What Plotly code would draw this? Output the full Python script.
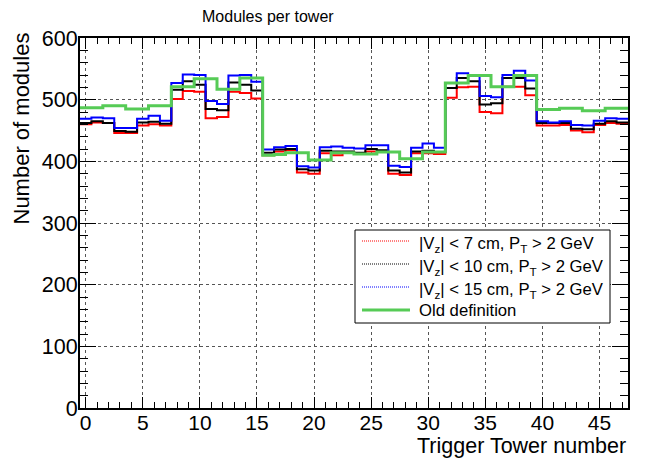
import numpy as np
import plotly.graph_objects as go

towers = list(range(48))

vz7 = [460, 463, 462, 446, 446, 458, 460, 458, 501, 514, 513, 470, 472, 513, 511, 502,
       410, 416, 418, 382, 380, 413, 410, 414, 412, 416, 415, 380, 378, 413, 413, 412,
       503, 520, 521, 480, 478, 521, 521, 507, 458, 458, 459, 450, 447, 459, 462, 461]

vz10 = [462, 465, 462, 449, 448, 463, 464, 461, 516, 530, 524, 485, 483, 528, 524, 515,
        414, 419, 420, 387, 385, 417, 416, 416, 414, 420, 418, 385, 382, 416, 417, 415,
        519, 535, 530, 492, 494, 535, 535, 518, 462, 462, 462, 453, 452, 461, 465, 463]

vz15 = [469, 471, 470, 454, 454, 469, 474, 466, 527, 541, 540, 498, 493, 539, 540, 529,
        419, 423, 425, 392, 390, 423, 424, 422, 421, 426, 426, 393, 391, 422, 429, 422,
        527, 543, 539, 506, 504, 540, 547, 531, 465, 463, 465, 459, 458, 466, 470, 469]

old_def = [487, 487, 490, 490, 485, 485, 490, 490, 521, 521, 534, 534, 517, 517, 535, 535,
           410, 411, 414, 414, 402, 402, 414, 414, 412, 412, 415, 415, 404, 404, 415, 415,
           527, 527, 539, 539, 521, 521, 539, 539, 484, 484, 486, 486, 482, 482, 486, 486]

x_ticks = [0, 5, 10, 15, 20, 25, 30, 35, 40, 45]
y_ticks = [0, 100, 200, 300, 400, 500, 600]

series = [
    ("|V<sub>z</sub>| &lt; 7 cm, P<sub>T</sub> &gt; 2 GeV", vz7, "#ff0000", 2, "1px,1px", 1),
    ("|V<sub>z</sub>| &lt; 10 cm, P<sub>T</sub> &gt; 2 GeV", vz10, "#000000", 2, "1px,1px", 1),
    ("|V<sub>z</sub>| &lt; 15 cm, P<sub>T</sub> &gt; 2 GeV", vz15, "#0000ff", 2, "1px,1px", 1),
    ("Old definition", old_def, "#56cb56", 3, "solid", 3),
]

edges = np.array(towers + [towers[-1] + 1], dtype=float) - 0.5

fig = go.Figure()
for name, vals, col, w, ldash, lw in series:
    yv = list(vals) + [vals[-1]]
    fig.add_trace(go.Scatter(x=edges, y=yv, mode="lines", name=name,
                             line=dict(color=col, width=w, shape="hv"),
                             showlegend=False, hoverinfo="skip"))

font_family = "Liberation Sans, Arial, Helvetica, sans-serif"

fig.update_layout(
    width=646, height=460,
    margin=dict(l=80, r=18, t=38, b=52),
    paper_bgcolor="white", plot_bgcolor="white",
    font=dict(family=font_family, color="black", size=21),
    showlegend=False,
)

fig.update_xaxes(
    range=[-0.5, 47.5], tickvals=x_ticks, ticktext=[str(t) for t in x_ticks],
    ticks="inside", ticklen=11, tickwidth=1, tickcolor="black",
    showline=True, linecolor="black", linewidth=2, mirror="ticks",
    showgrid=True, gridcolor="#555", griddash="dot", gridwidth=1,
    zeroline=False, ticklabelstandoff=-5,
    minor=dict(dtick=1, ticks="inside", ticklen=6, tickcolor="black", showgrid=False),
    tickfont=dict(size=21),
)
fig.update_yaxes(
    range=[0, 600], tickvals=y_ticks, ticktext=[str(t) for t in y_ticks],
    ticks="inside", ticklen=16, tickwidth=1, tickcolor="black",
    showline=True, linecolor="black", linewidth=2, mirror="ticks",
    showgrid=True, gridcolor="#555", griddash="dot", gridwidth=1,
    zeroline=False, ticklabelstandoff=-4,
    minor=dict(dtick=20, ticks="inside", ticklen=8, tickcolor="black", showgrid=False),
    tickfont=dict(size=21.5),
)

# Legend box (drawn in paper coordinates, ROOT TLegend style)
PW, PH, L, B = 548.0, 370.0, 80.0, 408.0
def px_x(x):
    return (x - L) / PW
def px_y(y):
    return (B - y) / PH

fig.add_shape(type="rect", xref="paper", yref="paper",
              x0=px_x(355), x1=px_x(610), y0=px_y(323), y1=px_y(230),
              line=dict(color="black", width=1), fillcolor="white", layer="above")
row_y = [241, 264, 287, 310]
for (name, vals, col, w, ldash, lw), ry in zip(series, row_y):
    fig.add_shape(type="line", xref="paper", yref="paper",
                  x0=px_x(362), x1=px_x(410), y0=px_y(ry), y1=px_y(ry),
                  line=dict(color=col, width=lw, dash=ldash), layer="above")
    off = 3 if "<sub>" in name else 0
    fig.add_annotation(text=name, xref="paper", yref="paper",
                       x=px_x(417), y=px_y(ry + off), xanchor="left", yanchor="middle",
                       showarrow=False, font=dict(size=16.7))

fig.add_annotation(text="Modules per tower", xref="paper", yref="paper",
                   x=0.343, y=1.057, xanchor="center", yanchor="middle",
                   showarrow=False, font=dict(size=16))
fig.add_annotation(text="Number of modules", xref="paper", yref="paper",
                   x=-0.106, y=1.02, xanchor="center", yanchor="top", textangle=-90,
                   showarrow=False, font=dict(size=22))
fig.add_annotation(text="Trigger Tower number", xref="paper", yref="paper",
                   x=1.0, y=-0.103, xanchor="right", yanchor="middle",
                   showarrow=False, font=dict(size=21.5))

fig.write_html("out.html")
